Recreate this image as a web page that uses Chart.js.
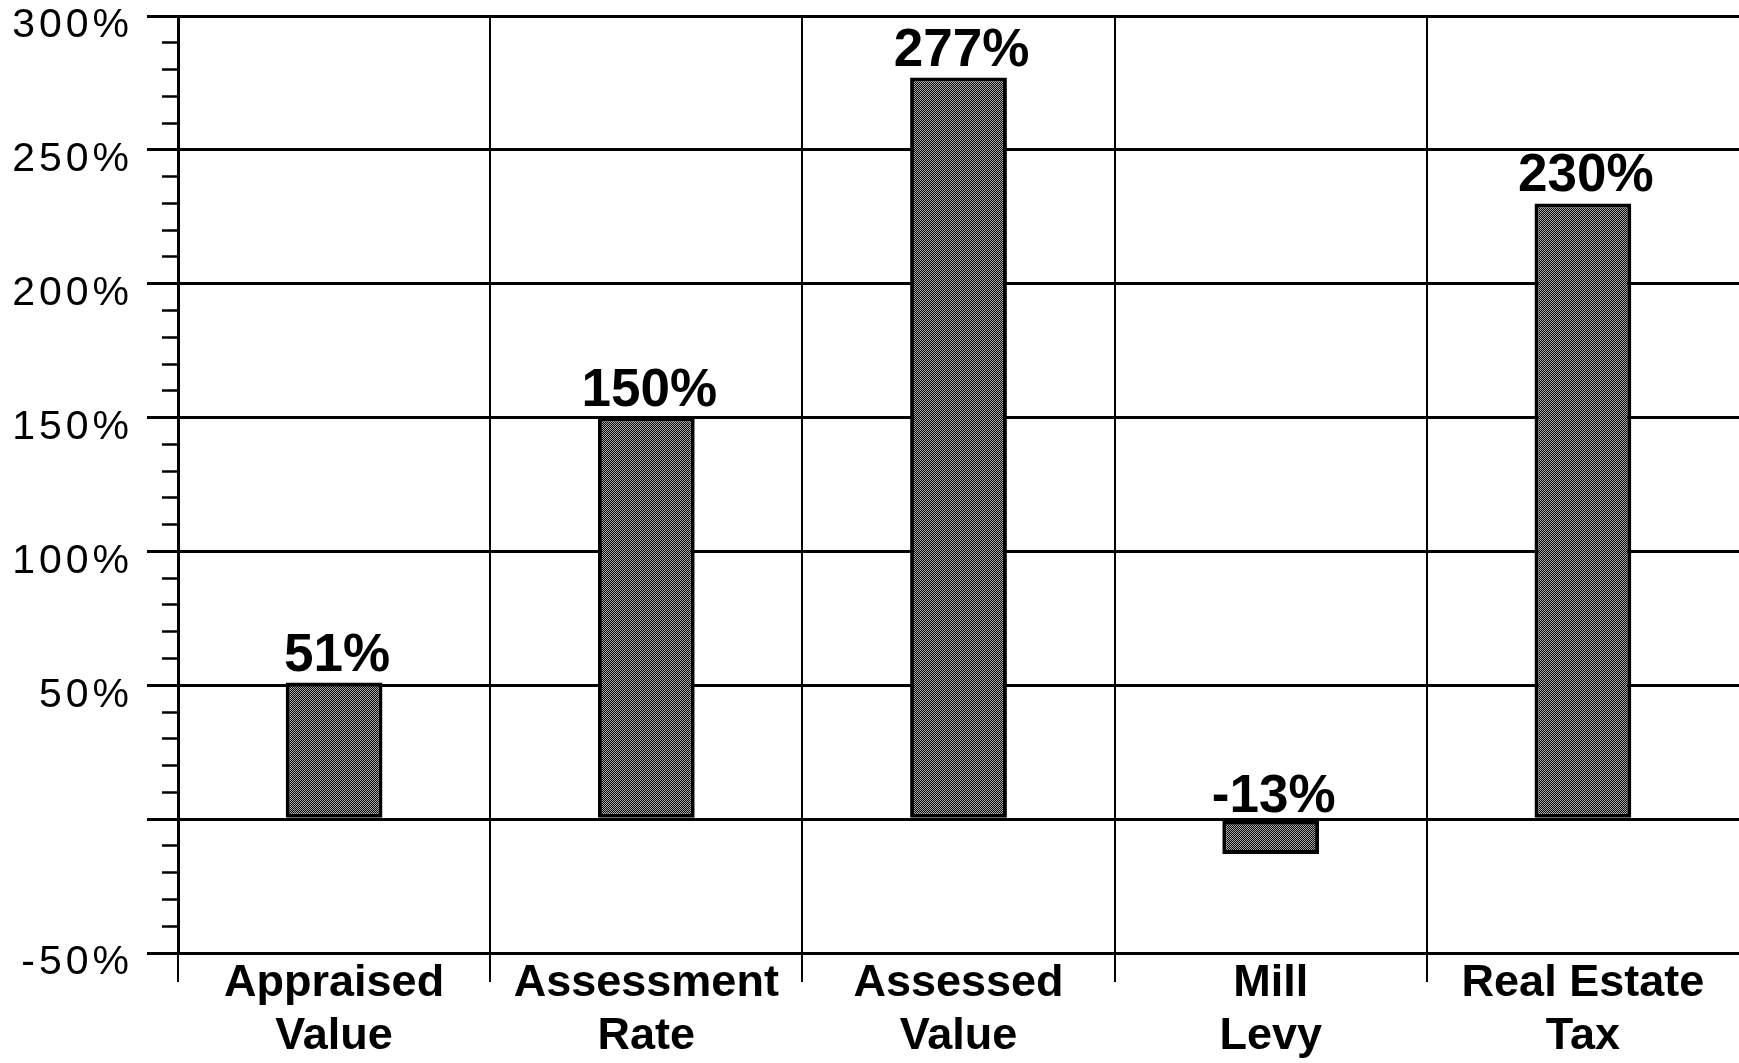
<!DOCTYPE html>
<html>
<head>
<meta charset="utf-8">
<title>Percent Change in Property Tax Components</title>
<script src="https://cdn.jsdelivr.net/npm/chart.js@4/dist/chart.umd.min.js"></script>
<style>
  html, body { margin: 0; padding: 0; background: #ffffff; }
  canvas { display: block; }
</style>
</head>
<body>
<canvas id="chart" width="1739" height="1063" style="width:1739px;height:1063px"></canvas>
<script>
// Categories (two-line labels) and the percent change for each
const categories = [
  ['Appraised', 'Value'],
  ['Assessment', 'Rate'],
  ['Assessed', 'Value'],
  ['Mill', 'Levy'],
  ['Real Estate', 'Tax']
];
const percentChange = [51, 150, 277, -13, 230];

// Value axis: range, minor tick step and the ticks that carry a label
const yMin = -50;
const yMax = 300;
const yMinorStep = 10;
const yMajorStep = 50;
const yLabelledTicks = [-50, 50, 100, 150, 200, 250, 300];

const FAMILY = '"Liberation Sans", Arial, Helvetica, sans-serif';

// Stippled grey fill for the bars
function makeStipple() {
  const c = document.createElement('canvas');
  c.width = 2; c.height = 2;
  const g = c.getContext('2d');
  g.fillStyle = '#080808';
  g.fillRect(0, 0, 2, 2);
  g.fillStyle = '#a8a8a8';
  g.fillRect(0, 0, 1, 1);
  g.fillRect(1, 1, 1, 1);
  return g.createPattern(c, 'repeat');
}

const isMajor = (v) => Math.abs(v % yMajorStep) < 1e-9;

// Wide tracking for the value-axis labels only
const axisTracking = {
  id: 'axisTracking',
  beforeDraw(chart) { chart.ctx.letterSpacing = '4px'; },
  beforeDatasetsDraw(chart) { chart.ctx.letterSpacing = '0px'; }
};

// Percent labels above each bar (negative bars: just above the zero line)
const valueLabels = {
  id: 'valueLabels',
  afterDatasetsDraw(chart) {
    const ctx = chart.ctx;
    const meta = chart.getDatasetMeta(0);
    const zeroY = chart.scales.y.getPixelForValue(0);
    ctx.save();
    ctx.letterSpacing = '0px';
    ctx.font = 'bold 53px ' + FAMILY;
    ctx.fillStyle = '#000';
    ctx.textAlign = 'center';
    ctx.textBaseline = 'alphabetic';
    meta.data.forEach((bar, i) => {
      const v = percentChange[i];
      const y = v >= 0 ? bar.y - 12 : zeroY - 7;
      ctx.fillText(v + '%', bar.x + 3, y);
    });
    ctx.restore();
  }
};

new Chart(document.getElementById('chart'), {
  type: 'bar',
  data: {
    labels: categories,
    datasets: [{
      data: percentChange,
      backgroundColor: makeStipple(),
      borderColor: '#000',
      borderWidth: 4,
      borderSkipped: false,
      barPercentage: 0.31,
      categoryPercentage: 1
    }]
  },
  plugins: [axisTracking, valueLabels],
  options: {
    responsive: false,
    maintainAspectRatio: false,
    devicePixelRatio: 1,
    animation: false,
    layout: { padding: { top: 16, right: 0, bottom: 0, left: 0 } },
    plugins: {
      legend: { display: false },
      tooltip: { enabled: false },
      title: { display: false }
    },
    scales: {
      x: {
        offset: true,
        grid: {
          offset: true,
          color: (c) => (c.index === undefined ? 'rgba(0,0,0,0)' : '#000'),
          lineWidth: 2,
          drawTicks: true,
          tickLength: 29,
          tickColor: (c) => (c.index === undefined ? 'rgba(0,0,0,0)' : '#000'),
          tickWidth: 2
        },
        border: { display: true, color: '#000', width: 3 },
        ticks: {
          z: 1,
          color: '#000',
          padding: -25,
          maxRotation: 0,
          autoSkip: false,
          font: { family: FAMILY, size: 45, weight: 'bold', lineHeight: 53 / 45 }
        },
        afterFit(scale) {
          scale.height = 110;
          scale.paddingLeft = 0;
          scale.paddingRight = 0;
        }
      },
      y: {
        min: yMin,
        max: yMax,
        grid: {
          color: (c) => (c.tick && isMajor(c.tick.value) ? '#000' : 'rgba(0,0,0,0)'),
          lineWidth: 3,
          drawTicks: true,
          tickLength: 31,
          tickColor: '#000',
          tickWidth: (c) => (c.tick && isMajor(c.tick.value) ? 3 : 2.5),
          // minor ticks: only the half of the mark that touches the axis
          tickBorderDash: (c) => (c.tick && isMajor(c.tick.value) ? [] : [0, 15, 20, 0])
        },
        border: { display: true, color: '#000', width: 3 },
        ticks: {
          stepSize: yMinorStep,
          autoSkip: false,
          color: '#000',
          padding: 14,
          labelOffset: 10,
          font: { family: FAMILY, size: 41, weight: 'normal' },
          callback: (value) => (yLabelledTicks.includes(value) ? value + '%' : '')
        },
        afterFit(scale) {
          scale.width = 178;
          scale.paddingTop = 0;
          scale.paddingBottom = 0;
        }
      }
    }
  }
});
</script>
</body>
</html>
